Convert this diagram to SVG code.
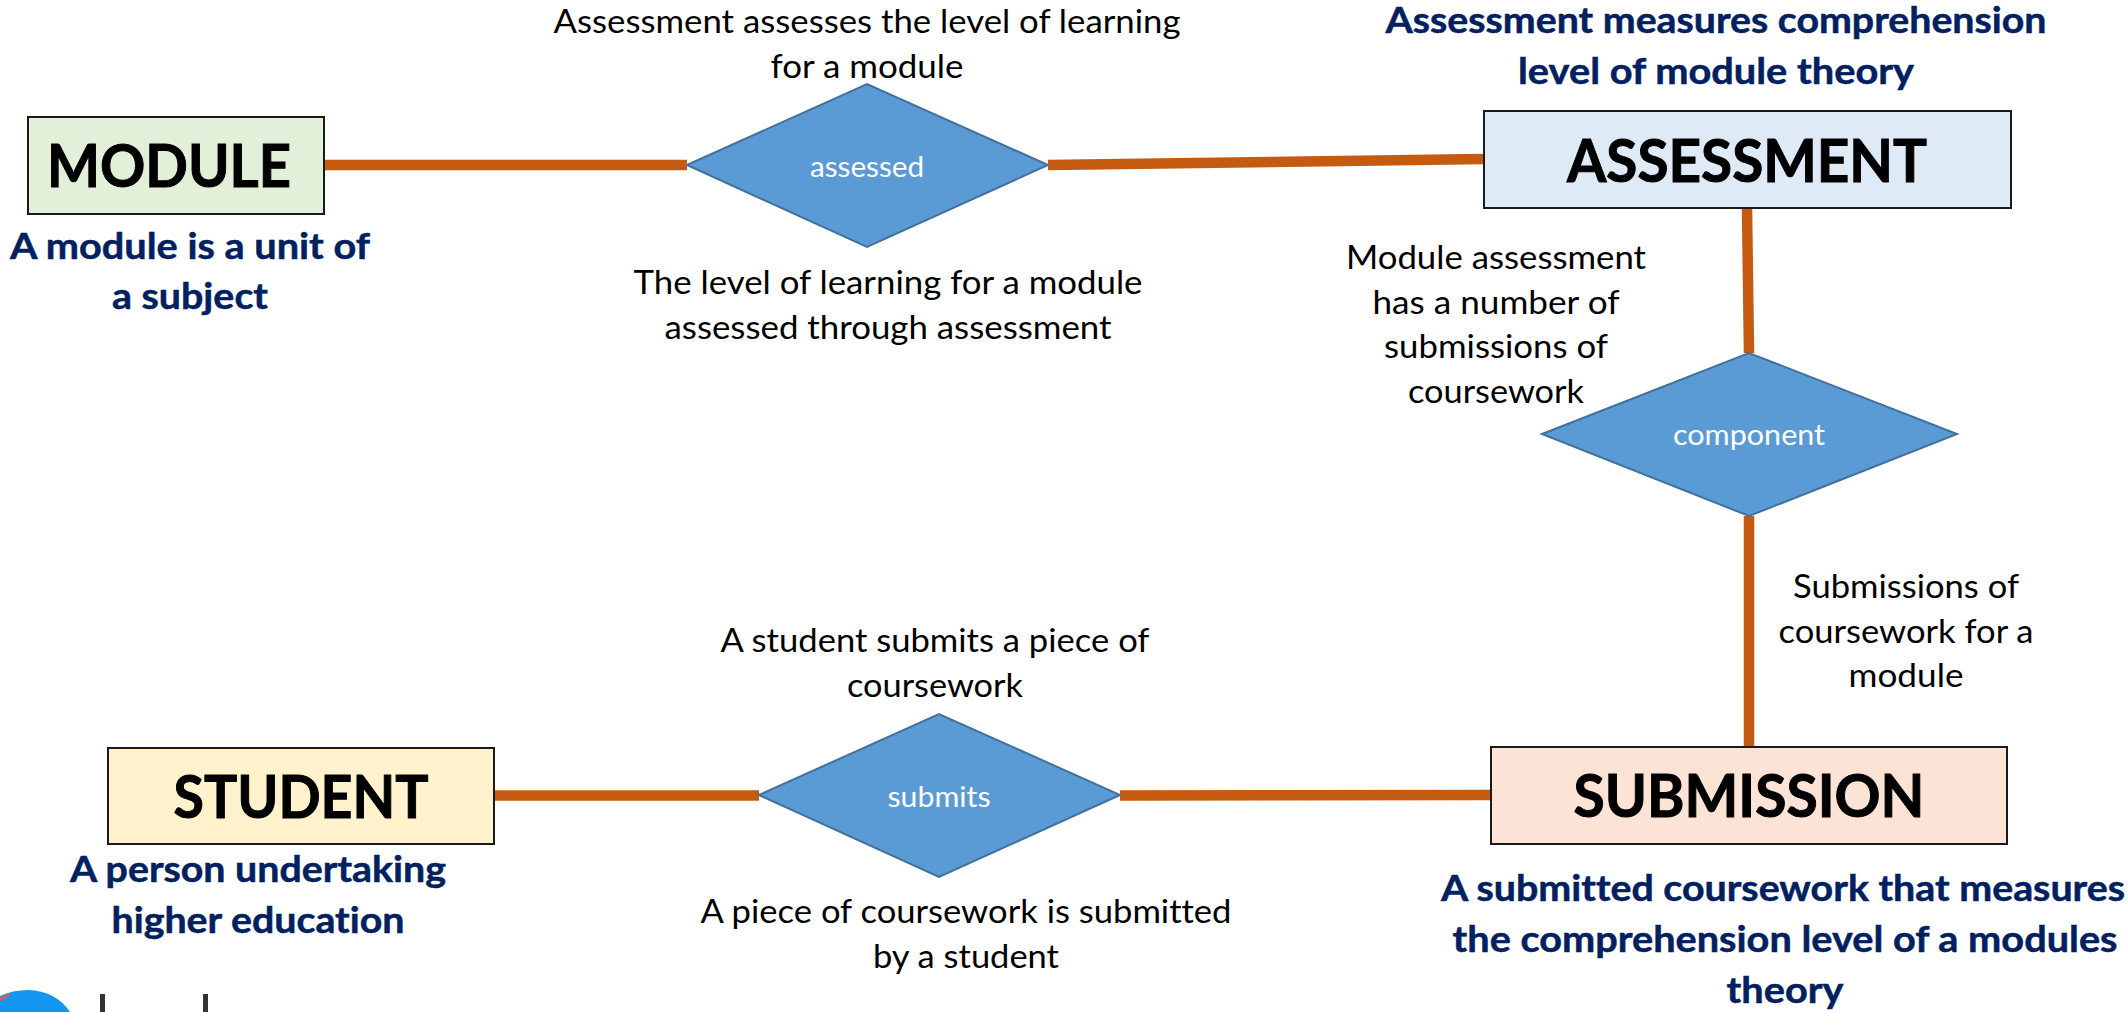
<svg xmlns="http://www.w3.org/2000/svg" width="2128" height="1012" viewBox="0 0 2128 1012">
<style>
text{font-family:"Lato","Open Sans","Liberation Sans",sans-serif;text-anchor:middle;font-variant-ligatures:none}
.e{stroke:#1a1a1a;stroke-width:2}
.d{fill:#5B9BD5;stroke:#41719C;stroke-width:2}
.t{font-size:60px;font-weight:700;fill:#000;stroke:#000;stroke-width:1}
.b{font-size:37px;font-weight:700;fill:#002060;stroke:#002060;stroke-width:.5}
.l{font-size:33px;fill:#000}
.w{font-size:29px;fill:#fff}
.c{stroke:#C55A11;stroke-width:10.5;fill:none}
</style>
<rect width="2128" height="1012" fill="#fff"/>
<g id="connectors">
<path class="c" d="M324 165H687"/>
<path class="c" d="M1048 165L1484 159"/>
<path class="c" d="M1747 208L1749 353"/>
<path class="c" d="M1749 516V747"/>
<path class="c" d="M494 795.500H759"/>
<path class="c" d="M1120 795.500L1491 795"/>
</g>
<g id="module">
<rect class="e" x="28" y="117" width="296" height="97" fill="#E2EFD9"/>
<text class="t" x="169" y="187" textLength="244" lengthAdjust="spacingAndGlyphs">MODULE</text>
<text class="b" x="190" y="259" textLength="360" lengthAdjust="spacingAndGlyphs">A module is a unit of</text>
<text class="b" x="190" y="309" textLength="156" lengthAdjust="spacingAndGlyphs">a subject</text>
</g>
<g id="assessed">
<polygon class="d" points="687,165 867,84 1048,165 867,247"/>
<text class="w" x="867" y="177" textLength="114" lengthAdjust="spacingAndGlyphs">assessed</text>
<text class="l" x="867" y="33" textLength="627" lengthAdjust="spacingAndGlyphs">Assessment assesses the level of learning</text>
<text class="l" x="867" y="78" textLength="193" lengthAdjust="spacingAndGlyphs">for a module</text>
<text class="l" x="888" y="294" textLength="509" lengthAdjust="spacingAndGlyphs">The level of learning for a module</text>
<text class="l" x="888" y="339" textLength="447" lengthAdjust="spacingAndGlyphs">assessed through assessment</text>
</g>
<g id="assessment">
<rect class="e" x="1484" y="111" width="527" height="97" fill="#DEEAF6"/>
<text class="t" x="1747" y="182" textLength="360" lengthAdjust="spacingAndGlyphs">ASSESSMENT</text>
<text class="b" x="1716" y="33" textLength="661" lengthAdjust="spacingAndGlyphs">Assessment measures comprehension</text>
<text class="b" x="1716" y="84" textLength="396" lengthAdjust="spacingAndGlyphs">level of module theory</text>
</g>
<g id="component">
<polygon class="d" points="1542,434 1749,353 1957,434 1749,516"/>
<text class="w" x="1749" y="445" textLength="152" lengthAdjust="spacingAndGlyphs">component</text>
<text class="l" x="1496" y="269" textLength="300" lengthAdjust="spacingAndGlyphs">Module assessment</text>
<text class="l" x="1496" y="314" textLength="247" lengthAdjust="spacingAndGlyphs">has a number of</text>
<text class="l" x="1496" y="358" textLength="224" lengthAdjust="spacingAndGlyphs">submissions of</text>
<text class="l" x="1496" y="403" textLength="176" lengthAdjust="spacingAndGlyphs">coursework</text>
<text class="l" x="1906" y="598" textLength="226" lengthAdjust="spacingAndGlyphs">Submissions of</text>
<text class="l" x="1906" y="643" textLength="255" lengthAdjust="spacingAndGlyphs">coursework for a</text>
<text class="l" x="1906" y="687" textLength="115" lengthAdjust="spacingAndGlyphs">module</text>
</g>
<g id="student">
<rect class="e" x="108" y="748" width="386" height="96" fill="#FFF2CC"/>
<text class="t" x="301" y="818" textLength="255" lengthAdjust="spacingAndGlyphs">STUDENT</text>
<text class="b" x="258" y="882" textLength="376" lengthAdjust="spacingAndGlyphs">A person undertaking</text>
<text class="b" x="258" y="933" textLength="293" lengthAdjust="spacingAndGlyphs">higher education</text>
</g>
<g id="submits">
<polygon class="d" points="759,795 939,714 1120,795 939,877"/>
<text class="w" x="939" y="807" textLength="103" lengthAdjust="spacingAndGlyphs">submits</text>
<text class="l" x="935" y="652" textLength="429" lengthAdjust="spacingAndGlyphs">A student submits a piece of</text>
<text class="l" x="935" y="697" textLength="176" lengthAdjust="spacingAndGlyphs">coursework</text>
<text class="l" x="966" y="923" textLength="531" lengthAdjust="spacingAndGlyphs">A piece of coursework is submitted</text>
<text class="l" x="966" y="968" textLength="186" lengthAdjust="spacingAndGlyphs">by a student</text>
</g>
<g id="submission">
<rect class="e" x="1491" y="747" width="516" height="97" fill="#FBE4D5"/>
<text class="t" x="1749" y="817" textLength="351" lengthAdjust="spacingAndGlyphs">SUBMISSION</text>
<text class="b" x="1783" y="901" textLength="684" lengthAdjust="spacingAndGlyphs">A submitted coursework that measures</text>
<text class="b" x="1785" y="952" textLength="665" lengthAdjust="spacingAndGlyphs">the comprehension level of a modules</text>
<text class="b" x="1785" y="1003" textLength="117" lengthAdjust="spacingAndGlyphs">theory</text>
</g>
<g id="logo-fragment">
<path d="M0 996Q12 990 28 990Q56 991 70 1012H0Z" fill="#1496F0"/>
<path d="M0 1000L9 994" stroke="#E25B4F" stroke-width="3"/>
<rect x="100" y="994" width="5" height="18" fill="#333"/>
<rect x="203" y="994" width="5" height="18" fill="#333"/>
</g>
</svg>
